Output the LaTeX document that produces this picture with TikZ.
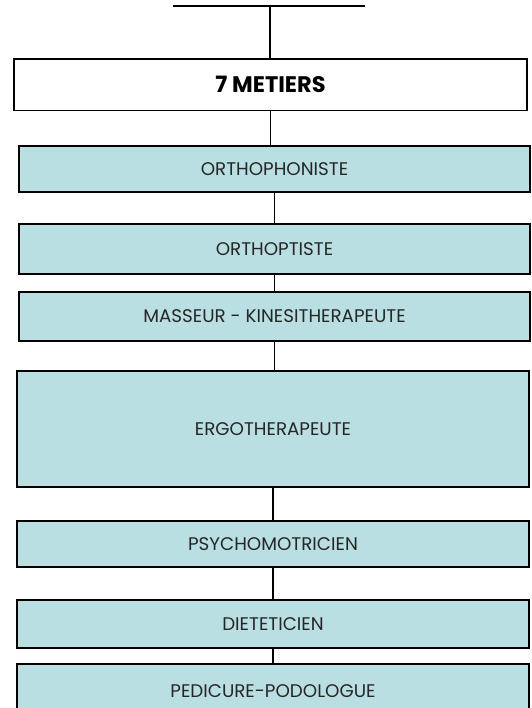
\documentclass[tikz,border=0pt]{standalone}
\usepackage{fontspec}
\setmainfont{Poppins}
\definecolor{boxfill}{RGB}{185,223,226}
\begin{document}
\begin{tikzpicture}[x=1pt,y=-1pt,
  box/.style={draw=black,line width=1.5pt,fill=boxfill,rectangle,inner sep=0pt,
    font=\fontsize{18.3}{20}\selectfont,text=black!85},
  boxtext/.style={font=\fontsize{18.3}{20}\selectfont,text=black!85,anchor=center},
  headbox/.style={draw=black,line width=1.5pt,fill=white,rectangle,inner sep=0pt,
    font=\fontsize{22.5}{26}\selectfont\bfseries},
  link/.style={draw=black,line width=1.6pt}]
\clip (0,0) rectangle (531,708);
\fill[white] (0,0) rectangle (531,708);
\coordinate (tl) at (173,6);
\coordinate (tr) at (365,6);
\coordinate (tm) at (270,6);
\node[headbox,minimum width=513pt,minimum height=51.5pt] (metiers) at (270.5,84.75) {7 METIERS};
\node[box,minimum width=511pt,minimum height=46pt] (b1) at (274.5,169) {ORTHOPHONISTE};
\node[box,minimum width=511pt,minimum height=50pt] (b2) at (274.5,249) {ORTHOPTISTE};
\node[box,minimum width=511pt,minimum height=49pt] (b3) at (274.5,316.5) {MASSEUR - KINESITHERAPEUTE};
\node[box,minimum width=512pt,minimum height=116pt] (b4) at (273,429) {ERGOTHERAPEUTE};
\node[box,minimum width=512pt,minimum height=46pt] (b5) at (273,544) {PSYCHOMOTRICIEN};
\node[box,minimum width=512pt,minimum height=48pt] (b6) at (273,624) {DIETETICIEN};
\node[box,minimum width=512pt,minimum height=60pt] (b7) at (273,694) {};
\node[boxtext] (b7t) at (273,691.5) {PEDICURE-PODOLOGUE};
\draw[link] (tl) -- (tr);
\draw[link] (tm) -- (tm |- metiers.north);
\draw[link] (metiers.south) -- (metiers.south |- b1.north);
\draw[link] (b1.south) -- (b1.south |- b2.north);
\draw[link] (b2.south) -- (b2.south |- b3.north);
\draw[link] (b3.south) -- (b3.south |- b4.north);
\draw[link] (b4.south) -- (b4.south |- b5.north);
\draw[link] (b5.south) -- (b5.south |- b6.north);
\draw[link] (b6.south) -- (b6.south |- b7.north);
\end{tikzpicture}
\end{document}
